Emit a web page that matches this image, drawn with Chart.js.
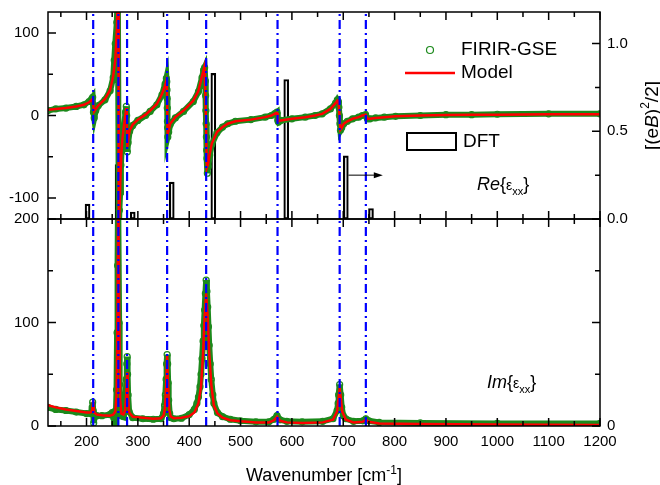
<!DOCTYPE html>
<html>
<head>
<meta charset="utf-8">
<script src="https://cdn.jsdelivr.net/npm/chart.js@4"></script>
<style>
body { margin: 0; background: #fff; }
#wrap { position: relative; width: 660px; height: 485px; }
#wrap canvas { position: absolute; left: 0; top: 0; }
</style>
</head>
<body>
<div id="wrap">
  <canvas id="reChart" width="660" height="485"></canvas>
  <canvas id="imChart" width="660" height="485"></canvas>
</div>
<script>
// phonon mode positions (blue dash-dot lines), cm-1
const modeCenters = [213, 262, 279, 357, 433, 572, 693, 744];

// DFT results, right axis of upper panel
const dftX = [202, 260.5, 290, 366, 447, 589, 705, 754];
const dftVal = [0.085, 0.31, 0.04, 0.21, 0.83, 0.795, 0.36, 0.06];

// Re{eps_xx} model
const reX = [125, 140, 160, 180, 195, 205, 210, 212, 213.5, 215, 218, 223, 236, 246, 252, 256, 259, 260.5, 262, 263, 264.5, 266, 268, 270, 273, 276, 277.5, 278.5, 279.5, 281, 284, 290, 300, 315, 324, 337, 347, 353, 355.5, 356.5, 358, 360, 363, 373, 389, 408, 418, 425, 428, 430, 432, 434.5, 437, 440, 444, 454, 465, 475, 490, 520, 548, 560, 566, 569, 571, 572.5, 574, 578, 600, 626, 645, 659, 675, 685, 688.5, 690.5, 692.5, 694.5, 697, 701, 708, 718, 730, 737, 743.5, 747, 752, 763, 780, 802, 850, 900, 950, 1000, 1100, 1200];
const reModel = [7, 8, 9, 11, 13, 16, 19, 20, 11, 5, 8, 12, 20, 31, 48, 67, 103, 135, 160, -150, -110, -75, -45, -28, -12, 2, 9, -5, -38, -30, -18, -11, -5, 1, 6, 14, 26, 36, 42, 38, -22, -18, -10, -2, 6, 18, 30, 48, 55, 60, 10, -63, -58, -46, -34, -20, -14, -10, -7, -5, -2, 0, 2, 3, 3, -6, -7, -6, -4, -2, 0, 2, 8, 15, 18, 17, 2, -17, -15, -10, -7, -4, -2, 0, 1, -4, -4, -3, -2, -1, 0, 0.5, 1, 1, 1.5, 1.5];

// Re{eps_xx} measured (FIRIR-GSE)
const reDataX = [125, 140, 160, 180, 195, 205, 210, 212, 213.5, 215, 218, 223, 236, 246, 252, 254, 256, 259, 261, 263, 264, 265.5, 267, 268.5, 270, 273, 276, 277.5, 278.2, 278.8, 279.5, 281, 284, 290, 300, 315, 324, 337, 347, 353, 355.5, 356.3, 356.7, 357, 357.3, 357.6, 357.9, 358.3, 360, 363, 373, 389, 408, 418, 425, 428, 430, 431.5, 432, 432.5, 433, 433.5, 434, 434.5, 435.3, 437, 440, 444, 454, 465, 475, 490, 520, 548, 560, 566, 569, 571, 572.5, 574, 578, 600, 626, 645, 659, 675, 685, 688.5, 690.5, 691.5, 692.5, 693.5, 694.5, 697, 701, 708, 718, 730, 737, 743.5, 747, 752, 763, 780, 802, 850, 900, 950, 1000, 1100, 1200];
const reData = [6, 8, 9, 11, 13, 17, 20, 22, 4, -3, 6, 12, 19, 30, 46, 67, 87, 113, 150, -140, -115, -93, -60, -40, -30, -14, 4, 11, 0, -20, -44, -33, -19, -12, -6, 0, 5, 13, 25, 38, 45, 41, 31, 21, 9, -7, -15, -26, -20, -11, -3, 5, 17, 29, 46, 55, 58, 42, 24, 6, -10, -26, -42, -52, -70, -62, -48, -35, -21, -14, -10, -7, -5, -2, 0, 2, 3, 4, -6, -8, -6, -4, -2, 0, 2, 8, 15, 19, 17, 10, 0, -10, -18, -15, -10, -7, -4, -2, 0, 1, -4, -4, -3, -2, -1, 0, 1, 1, 1.5, 2, 2];

// Im{eps_xx} model
const imX = [125, 140, 160, 180, 200, 208, 211, 213, 215, 220, 230, 245, 252, 256, 258.5, 260.5, 262, 263.5, 265.5, 268, 272, 275, 277.5, 279, 280.5, 283, 290, 310, 330, 345, 350, 353, 355, 357, 359, 361, 364, 370, 385, 400, 410, 418, 423, 427, 430, 433, 436, 439, 443, 448, 455, 465, 480, 500, 530, 555, 565, 571, 577, 590, 620, 660, 680, 688, 691, 693, 695, 698, 705, 720, 738, 744, 750, 770, 850, 1000, 1200];
const imModel = [20, 18, 16, 14.5, 13, 13, 15, 25, 13, 11, 10.5, 10, 11, 14, 30, 120, 260, 120, 25, 12, 11, 15, 32, 52, 30, 13, 9, 8, 7, 7.5, 10, 18, 38, 68, 38, 16, 9, 7.5, 8, 9.5, 13, 22, 38, 70, 105, 128, 105, 70, 40, 20, 12, 8, 5.5, 4.5, 3.5, 3.5, 5.5, 9, 5, 3.5, 3, 3.5, 6, 14, 28, 36, 28, 14, 6, 3.5, 4, 6, 4, 2.5, 2, 1.5, 1];

// Im{eps_xx} measured (FIRIR-GSE)
const imDataX = [125, 140, 160, 180, 200, 208, 211, 212, 213, 214, 216, 220, 230, 245, 250, 253, 255, 257, 258.5, 259.5, 260.5, 261.5, 262.5, 263.5, 264.5, 266, 268, 272, 275, 276.5, 277.5, 278.5, 279.2, 280, 281, 283, 290, 310, 330, 345, 350, 352, 353.5, 355, 356, 357, 358, 359, 360, 362, 364, 370, 385, 400, 410, 415, 418, 421, 423, 425, 427, 428.5, 430, 431.5, 433, 434.5, 436, 437.5, 439, 441, 443, 446, 448, 455, 465, 480, 500, 530, 555, 565, 571, 577, 590, 620, 660, 680, 688, 690, 691, 693, 695, 697, 700, 705, 720, 738, 744, 750, 770, 850, 1000, 1200];
const imData = [18, 16, 15, 13.5, 12, 12, 18, 23, 15, 3, 9, 10, 10, 11, 13, 8, 2, 8, 35, 90, 155, 230, 230, 100, 40, 15, 10, 9, 17, 30, 45, 60, 67, 50, 30, 14, 8, 7, 6.5, 7, 12, 20, 30, 45, 60, 69, 60, 42, 25, 12, 8, 7, 7.5, 11, 16, 22, 28, 38, 50, 65, 82, 97, 112, 128, 141, 130, 115, 96, 78, 60, 45, 30, 22, 13, 9, 6.5, 5, 4, 4, 6.5, 10, 6, 4.5, 4, 4.5, 7, 15, 22, 30, 40, 30, 18, 10, 7, 4.5, 5, 7, 5, 3.5, 3, 2.5, 2.5];

// axis ranges and tick values
const xMin = 125, xMax = 1200;
const xTicks = [150, 200, 250, 300, 350, 400, 450, 500, 550, 600, 650, 700, 750, 800, 850, 900, 950, 1000, 1050, 1100, 1150, 1200];
const reMin = -125.5, reMax = 125.5;
const reTicks = [-100, -50, 0, 50, 100];
const imMin = 0, imMax = 200;
const imTicks = [0, 50, 100, 150, 200];
const dftMin = 0, dftMax = 1.18;
const dftTicks = [0, 0.25, 0.5, 0.75, 1.0];

const FONT = '"Liberation Sans", Arial, sans-serif';
const GREEN = '#1c8a1c';
const RED = '#ff0000';
const BLUE = '#0000ff';

Chart.defaults.font.family = FONT;
Chart.defaults.font.size = 15;
Chart.defaults.color = '#000';

function pts(xs, ys) {
    return xs.map((x, i) => ({ x: x, y: ys[i] }));
}

function modeLine(c, lo, hi) {
    return {
        type: 'line', yAxisID: 'y', data: [{ x: c, y: lo }, { x: c, y: hi }],
        borderColor: BLUE, borderWidth: 2.2, borderDash: [9, 4, 2, 4],
        pointRadius: 0, order: 0
    };
}

function isMajor(v, step) {
    return Math.abs(v / step - Math.round(v / step)) < 1e-6;
}

function fixFit(s, size) {
    if (s.isHorizontal()) s.height = size; else s.width = size;
    s.paddingTop = 0; s.paddingBottom = 0; s.paddingLeft = 0; s.paddingRight = 0;
}

function axis(pos, min, max, tickVals, labelFn, size, pad, show) {
    return {
        type: 'linear', position: pos, min: min, max: max, offset: false, display: show,
        grid: { display: false, drawTicks: false },
        border: { display: false },
        ticks: { autoSkip: false, maxRotation: 0, padding: pad, callback: labelFn },
        afterBuildTicks: s => { s.ticks = tickVals.map(v => ({ value: v })); },
        afterFit: s => fixFit(s, size)
    };
}

const xLabel = v => isMajor(v, 100) ? String(v) : '';

// frame box + inward tick marks
const frameTicks = {
    id: 'frameTicks',
    afterDatasetsDraw(chart, args, opts) {
        const { ctx, chartArea: a, scales } = chart;
        ctx.save();
        ctx.strokeStyle = '#000';
        ctx.lineWidth = 1.5;
        ctx.strokeRect(a.left, a.top, a.right - a.left, a.bottom - a.top);
        ctx.beginPath();
        xTicks.forEach(v => {
            const px = scales.x.getPixelForValue(v);
            const len = isMajor(v, opts.major.x) ? 8 : 5;
            ctx.moveTo(px, a.top); ctx.lineTo(px, a.top + len);
            ctx.moveTo(px, a.bottom); ctx.lineTo(px, a.bottom - len);
        });
        scales.y.ticks.forEach(t => {
            const py = scales.y.getPixelForValue(t.value);
            const len = isMajor(t.value, opts.major.y) ? 8 : 5;
            ctx.moveTo(a.left, py); ctx.lineTo(a.left + len, py);
        });
        scales.yR.ticks.forEach(t => {
            const py = scales.yR.getPixelForValue(t.value);
            const len = isMajor(t.value, opts.major.yR) ? 8 : 5;
            ctx.moveTo(a.right, py); ctx.lineTo(a.right - len, py);
        });
        ctx.stroke();
        ctx.restore();
    }
};

function drawRich(ctx, parts, x, y, align) {
    let w = 0;
    parts.forEach(p => { ctx.font = p[1]; w += ctx.measureText(p[0]).width; });
    let cx = align === 'center' ? x - w / 2 : x;
    parts.forEach(p => {
        ctx.font = p[1];
        ctx.fillText(p[0], cx, y + (p[2] || 0));
        cx += ctx.measureText(p[0]).width;
    });
}

const f = (s, style) => (style ? style + ' ' : '') + s + 'px ' + FONT;

// legend, labels, arrow, right title for the Re panel
const reNotes = {
    id: 'reNotes',
    afterDraw(chart) {
        const { ctx, scales } = chart;
        ctx.save();
        ctx.fillStyle = '#000';
        ctx.textBaseline = 'middle';
        // legend
        ctx.strokeStyle = GREEN; ctx.lineWidth = 1.2;
        ctx.beginPath(); ctx.arc(430, 50, 3.5, 0, Math.PI * 2); ctx.stroke();
        ctx.font = f(19); ctx.fillText('FIRIR-GSE', 461, 50);
        ctx.strokeStyle = RED; ctx.lineWidth = 2.5;
        ctx.beginPath(); ctx.moveTo(405, 73); ctx.lineTo(455, 73); ctx.stroke();
        ctx.fillText('Model', 461, 73);
        ctx.strokeStyle = '#000'; ctx.lineWidth = 2;
        ctx.strokeRect(407, 133, 49, 17);
        ctx.fillText('DFT', 463, 142);
        // arrow towards the right axis
        const ay = scales.yR.getPixelForValue(0.25);
        const ax0 = scales.x.getPixelForValue(710), ax1 = scales.x.getPixelForValue(777);
        ctx.lineWidth = 1;
        ctx.beginPath(); ctx.moveTo(ax0, ay); ctx.lineTo(ax1 - 6, ay); ctx.stroke();
        ctx.beginPath(); ctx.moveTo(ax1, ay); ctx.lineTo(ax1 - 9, ay - 3); ctx.lineTo(ax1 - 9, ay + 3); ctx.closePath(); ctx.fill();
        // panel label
        ctx.textBaseline = 'alphabetic';
        drawRich(ctx, [['Re', f(18, 'italic')], ['{', f(18)], ['\u03b5', f(14)], ['xx', f(11), 5], ['}', f(18)]], 477, 189.5);
        // right axis title
        ctx.translate(653, (chart.chartArea.top + chart.chartArea.bottom) / 2);
        ctx.rotate(-Math.PI / 2);
        ctx.textBaseline = 'middle';
        drawRich(ctx, [['[(e', f(19)], ['B', f(19, 'italic')], [')', f(19)], ['2', f(12), -7], ['/2]', f(19)]], 0, 0, 'center');
        ctx.restore();
    }
};

// panel label and x title for the Im panel
const imNotes = {
    id: 'imNotes',
    afterDraw(chart) {
        const { ctx, chartArea: a } = chart;
        ctx.save();
        ctx.fillStyle = '#000';
        ctx.textBaseline = 'alphabetic';
        drawRich(ctx, [['Im', f(18, 'italic')], ['{', f(18)], ['\u03b5', f(14)], ['xx', f(11), 5], ['}', f(18)]], 487, 388);
        drawRich(ctx, [['Wavenumber [cm', f(18)], ['-1', f(12), -7], [']', f(18)]], (a.left + a.right) / 2, 481, 'center');
        ctx.restore();
    }
};

function curveSets(mx, my, dx, dy) {
    return [
        { type: 'line', yAxisID: 'y', data: pts(mx, my), borderColor: RED, borderWidth: 2.5,
          pointRadius: 0, order: 1 },
        { type: 'line', yAxisID: 'y', data: pts(dx, dy), borderColor: GREEN, borderWidth: 6,
          pointRadius: 3, pointBorderWidth: 1.2, pointBorderColor: GREEN,
          pointBackgroundColor: 'rgba(255,255,255,0)', order: 2 }
    ];
}

new Chart(document.getElementById('reChart'), {
    type: 'line',
    data: {
        datasets: [
            ...modeCenters.map(c => modeLine(c, reMin, reMax)),
            ...curveSets(reX, reModel, reDataX, reData),
            { type: 'bar', yAxisID: 'yR', data: pts(dftX, dftVal), grouped: false,
              backgroundColor: 'rgba(0,0,0,0)', borderColor: '#000', borderWidth: 1.5,
              borderSkipped: false, barThickness: 5, order: 3 }
        ]
    },
    options: {
        responsive: false,
        animation: false,
        events: [],
        layout: { padding: { top: 12, bottom: 266, left: 0, right: 0 } },
        plugins: {
            legend: { display: false },
            tooltip: { enabled: false },
            frameTicks: { major: { x: 100, y: 100, yR: 0.5 } }
        },
        scales: {
            x: axis('bottom', xMin, xMax, xTicks, xLabel, 0, 7, false),
            y: axis('left', reMin, reMax, reTicks, v => isMajor(v, 100) ? String(v) : '', 48, 9, true),
            yR: axis('right', dftMin, dftMax, dftTicks, v => isMajor(v, 0.5) ? v.toFixed(1) : '', 60, 7, true)
        }
    },
    plugins: [frameTicks, reNotes]
});

new Chart(document.getElementById('imChart'), {
    type: 'line',
    data: {
        datasets: [
            ...modeCenters.map(c => modeLine(c, imMin, imMax)),
            ...curveSets(imX, imModel, imDataX, imData)
        ]
    },
    options: {
        responsive: false,
        animation: false,
        events: [],
        layout: { padding: { top: 219, bottom: 0, left: 0, right: 0 } },
        plugins: {
            legend: { display: false },
            tooltip: { enabled: false },
            frameTicks: { major: { x: 100, y: 100, yR: 100 } }
        },
        scales: {
            x: axis('bottom', xMin, xMax, xTicks, xLabel, 59, 7, true),
            y: axis('left', imMin, imMax, imTicks, v => isMajor(v, 100) ? String(v) : '', 48, 9, true),
            yR: axis('right', imMin, imMax, imTicks, v => v === 0 ? '0' : '', 60, 7, true)
        }
    },
    plugins: [frameTicks, imNotes]
});
</script>
</body>
</html>
